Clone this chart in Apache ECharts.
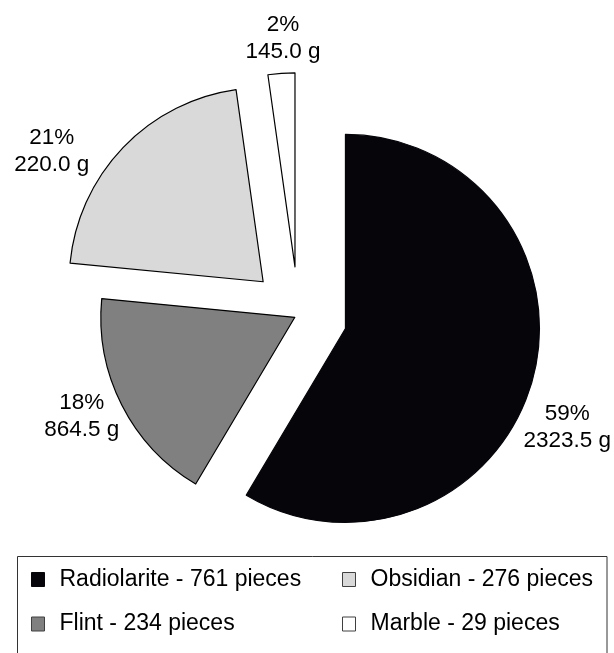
<!DOCTYPE html>
<html>
<head>
<meta charset="utf-8">
<title>Raw materials</title>
<script src="https://cdn.jsdelivr.net/npm/echarts@6/dist/echarts.min.js"></script>
<style>
  html, body { margin: 0; padding: 0; background: #ffffff; }
  #chart { width: 614px; height: 653px; }
</style>
</head>
<body>
<div id="chart"></div>
<script>
// Raw material groups: piece counts drive the slices, weights are shown in the labels
const categories = ['Radiolarite', 'Flint', 'Obsidian', 'Marble'];
const pieces = [761, 234, 276, 29];
const grams = [2323.5, 864.5, 220.0, 145.0];

// Appearance
const fills = ['#05050a', '#808080', '#d9d9d9', '#ffffff'];
const edges = ['#05050a', '#000000', '#000000', '#000000'];
const legendEdges = ['#05050a', '#404040', '#404040', '#404040'];
const explode = [48.8, 4, 48.8, 48.8];          // radial pull-out of each slice, px
const labelDist = [243, 235, 248.6, 229.3];      // label distance from slice tip, px
const labelTurn = [8.7, 1.9, -12, 1];            // label angle tweak, degrees
const pieCenter = [298.4, 315.5];
const pieRadius = 194;
const FONT = 'Liberation Sans, Arial, Helvetica, sans-serif';

const total = pieces.reduce((a, b) => a + b, 0);
// mid angle of every slice, degrees clockwise from 12 o'clock
const midAngles = [];
let acc = 0;
pieces.forEach(v => {
  const span = v / total * 360;
  midAngles.push(acc + span / 2);
  acc += span;
});
const rad = d => d * Math.PI / 180;

// each slice gets its own series so it can be pulled out along its own bisector
const series = categories.map((_, i) => {
  const a = rad(midAngles[i]);
  const cx = pieCenter[0] + explode[i] * Math.sin(a);
  const cy = pieCenter[1] - explode[i] * Math.cos(a);
  return {
    type: 'pie',
    silent: true,
    center: [cx, cy],
    radius: pieRadius,
    startAngle: 90,
    clockwise: true,
    avoidLabelOverlap: false,
    labelLine: { show: false },
    emphasis: { disabled: true },
    label: {
      show: true,
      position: 'outside',
      color: '#000',
      fontFamily: FONT,
      fontSize: 22.5,
      lineHeight: 27,
      align: 'center',
      formatter: p => Math.round(p.percent) + '%\n' + grams[p.dataIndex].toFixed(1) + ' g'
    },
    labelLayout: params => {
      const t = rad(midAngles[i] + labelTurn[i]);
      return {
        x: cx + labelDist[i] * Math.sin(t),
        y: cy - labelDist[i] * Math.cos(t),
        align: 'center',
        verticalAlign: 'middle'
      };
    },
    data: categories.map((name, j) => ({
      name: name,
      value: pieces[j],
      itemStyle: j === i
        ? { color: fills[j], borderColor: edges[j], borderWidth: 1.2 }
        : { color: 'rgba(0,0,0,0)', borderWidth: 0 },
      label: { show: j === i }
    }))
  };
});

const legendItem = j => ({
  name: categories[j],
  itemStyle: { color: fills[j], borderColor: legendEdges[j], borderWidth: 1 }
});
const legendBase = {
  orient: 'vertical',
  top: 567.5,
  padding: 0,
  itemGap: 20.5,
  itemWidth: 13,
  itemHeight: 14,
  icon: 'rect',
  selectedMode: false,
  formatter: name => name + ' - ' + pieces[categories.indexOf(name)] + ' pieces',
  textStyle: {
    color: '#000',
    fontFamily: FONT,
    fontSize: 23,
    lineHeight: 24,
    padding: [0, 0, 0, 10]
  }
};

const chart = echarts.init(document.getElementById('chart'), null, { renderer: 'canvas' });
chart.setOption({
  backgroundColor: '#ffffff',
  animation: false,
  legend: [
    Object.assign({}, legendBase, { left: 31, data: [legendItem(0), legendItem(1)] }),
    Object.assign({}, legendBase, { left: 342, data: [legendItem(2), legendItem(3)] })
  ],
  graphic: [{
    type: 'rect',
    silent: true,
    shape: { x: 17.5, y: 556.5, width: 589.5, height: 200 },
    style: { fill: 'none', stroke: '#333333', lineWidth: 1 }
  }],
  series: series
});
</script>
</body>
</html>
